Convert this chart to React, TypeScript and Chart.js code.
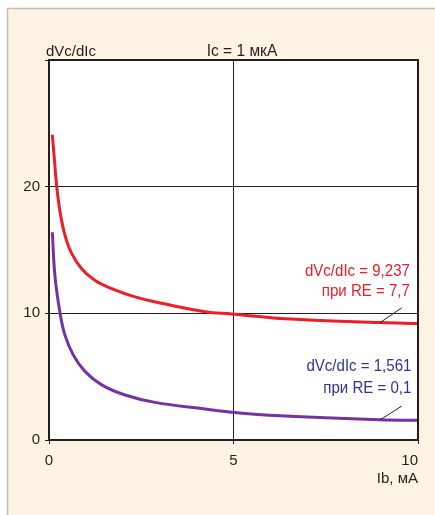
import React, { useEffect, useRef } from 'react';
import { Chart, registerables } from 'chart.js';

Chart.register(...registerables);

// Ib, mA  vs  dVc/dIc
const ibRed = [0.09, 0.145, 0.21, 0.3, 0.43, 0.61, 0.89, 1.25, 1.7, 2.33, 3.05, 4.23, 4.95, 6.26, 8.97, 10];
const dvRed = [24.1, 22.2, 20.0, 18.0, 16.2, 14.75, 13.5, 12.6, 11.95, 11.3, 10.8, 10.13, 9.95, 9.6, 9.27, 9.2];
const ibPurple = [0.09, 0.16, 0.3, 0.43, 0.66, 0.98, 1.43, 2.06, 2.87, 4.23, 4.95, 6.26, 8.97, 10];
const dvPurple = [16.4, 13.0, 10.0, 8.3, 6.7, 5.4, 4.35, 3.55, 2.97, 2.45, 2.2, 1.92, 1.6, 1.56];

const xTicks = [0, 5, 10];
const yTicks = [0, 10, 20, 30];

const yTitle = 'dVc/dIc';
const topTitle = 'Ic = 1 мкА';
const xTitle = 'Ib, мА';
const redLabel = ['dVc/dIc = 9,237', 'при RE = 7,7'];
const blueLabel = ['dVc/dIc = 1,561', 'при RE = 0,1'];

// annotation anchors in data units
const redLeader = [[8.97, 9.26], [9.56, 10.44]];
const purpleLeader = [[8.97, 1.58], [9.56, 2.68]];
const redLabelPos = [9.78, 12.95, 11.37];
const blueLabelPos = [9.82, 5.47, 3.73];
const topTitlePos = 5.23;

const FONT = "'Liberation Sans', Arial, sans-serif";
const RED = '#EE1D27';
const PURPLE = '#7432A2';
const BLUE = '#2F3394';
const INK = '#231F20';

function condensedText(ctx: any, text: string, x: number, y: number, align: string, sx: number) {
  ctx.save();
  ctx.translate(x, y);
  ctx.scale(sx, 1);
  ctx.textAlign = align;
  ctx.fillText(text, 0, 0);
  ctx.restore();
}

const decor = {
  id: 'decor',
  beforeDraw(chart: any) {
    const { ctx, width, height, chartArea: a } = chart;
    ctx.save();
    ctx.fillStyle = '#ffffff';
    ctx.fillRect(0, 0, width, height);
    ctx.fillStyle = '#FCF3E2';
    ctx.fillRect(7, 8, width - 7, height - 8);
    ctx.strokeStyle = '#BDBDBD';
    ctx.lineWidth = 1.5;
    ctx.beginPath();
    ctx.moveTo(7.5, height);
    ctx.lineTo(7.5, 8.5);
    ctx.lineTo(width, 8.5);
    ctx.stroke();
    ctx.fillStyle = '#ffffff';
    ctx.fillRect(a.left, a.top, a.right - a.left, a.bottom - a.top);
    ctx.restore();
  },
  afterDatasetsDraw(chart: any) {
    const { ctx, chartArea: a, scales } = chart;
    const xs = scales.x, ys = scales.y;
    ctx.save();
    ctx.strokeStyle = INK;
    ctx.lineWidth = 2;
    ctx.strokeRect(a.left, a.top, a.right - a.left, a.bottom - a.top);

    ctx.lineWidth = 1;
    for (const seg of [redLeader, purpleLeader]) {
      ctx.beginPath();
      ctx.moveTo(xs.getPixelForValue(seg[0][0]), ys.getPixelForValue(seg[0][1]));
      ctx.lineTo(xs.getPixelForValue(seg[1][0]), ys.getPixelForValue(seg[1][1]));
      ctx.stroke();
    }

    ctx.font = `16px ${FONT}`;
    ctx.textBaseline = 'alphabetic';
    ctx.fillStyle = RED;
    condensedText(ctx, redLabel[0], xs.getPixelForValue(redLabelPos[0]), ys.getPixelForValue(redLabelPos[1]), 'right', 0.94);
    condensedText(ctx, redLabel[1], xs.getPixelForValue(redLabelPos[0]), ys.getPixelForValue(redLabelPos[2]), 'right', 0.94);
    ctx.fillStyle = BLUE;
    condensedText(ctx, blueLabel[0], xs.getPixelForValue(blueLabelPos[0]), ys.getPixelForValue(blueLabelPos[1]), 'right', 0.94);
    condensedText(ctx, blueLabel[1], xs.getPixelForValue(blueLabelPos[0]), ys.getPixelForValue(blueLabelPos[2]), 'right', 0.94);

    ctx.fillStyle = INK;
    ctx.font = `15px ${FONT}`;
    ctx.textAlign = 'left';
    ctx.fillText(yTitle, a.left - 3, a.top - 4);
    ctx.font = `16px ${FONT}`;
    condensedText(ctx, topTitle, xs.getPixelForValue(topTitlePos), a.top - 4, 'center', 0.97);

    // x tick labels: first and middle centred, last flush with the right edge
    ctx.font = `15px ${FONT}`;
    ctx.textBaseline = 'alphabetic';
    xTicks.forEach((v, i) => {
      ctx.textAlign = i === xTicks.length - 1 ? 'right' : 'center';
      ctx.fillText(String(v), xs.getPixelForValue(v), a.bottom + 25);
    });
    ctx.restore();
  },
};

export default function App() {
  const ref = useRef<HTMLCanvasElement>(null);
  useEffect(() => {
    if (!ref.current) return;
    const chart = new Chart(ref.current, {
      type: 'line',
      data: {
        datasets: [
          {
            data: ibRed.map((x, i) => ({ x, y: dvRed[i] })),
            borderColor: RED,
            borderWidth: 3,
            pointRadius: 0,
            tension: 0.4,
            fill: false,
          },
          {
            data: ibPurple.map((x, i) => ({ x, y: dvPurple[i] })),
            borderColor: PURPLE,
            borderWidth: 3,
            pointRadius: 0,
            tension: 0.4,
            fill: false,
          },
        ],
      },
      plugins: [decor],
      options: {
        responsive: false,
        animation: false,
        devicePixelRatio: 1,
        layout: { padding: { top: 60, right: 17, left: 0, bottom: 0 } },
        plugins: { legend: { display: false }, tooltip: { enabled: false }, title: { display: false } },
        scales: {
          x: {
            type: 'linear',
            min: 0,
            max: 10,
            afterBuildTicks: (s: any) => { s.ticks = xTicks.map((v) => ({ value: v })); },
            afterFit: (s: any) => { s.height = 75; },
            ticks: { display: false },
            grid: { color: INK, lineWidth: 1, tickLength: 4, drawTicks: true },
            border: { color: INK, width: 2 },
            title: {
              display: true,
              text: xTitle,
              align: 'end',
              color: INK,
              font: { family: FONT, size: 15 },
              padding: { top: 0, bottom: 27 },
            },
          },
          y: {
            type: 'linear',
            min: 0,
            max: 30,
            afterBuildTicks: (s: any) => { s.ticks = yTicks.map((v) => ({ value: v })); },
            afterFit: (s: any) => { s.width = 49; },
            ticks: {
              font: { family: FONT, size: 15 },
              color: INK,
              padding: 5,
              callback: (v: any) => (v === 30 ? '' : String(v)),
            },
            grid: { color: INK, lineWidth: 1, tickLength: 4, drawTicks: true },
            border: { color: INK, width: 2 },
          },
        },
      } as any,
    });
    return () => chart.destroy();
  }, []);
  return (
    <div style={{ position: 'fixed', left: 0, top: 0, width: 435, height: 515 }}>
      <canvas ref={ref} width={435} height={515} />
    </div>
  );
}
